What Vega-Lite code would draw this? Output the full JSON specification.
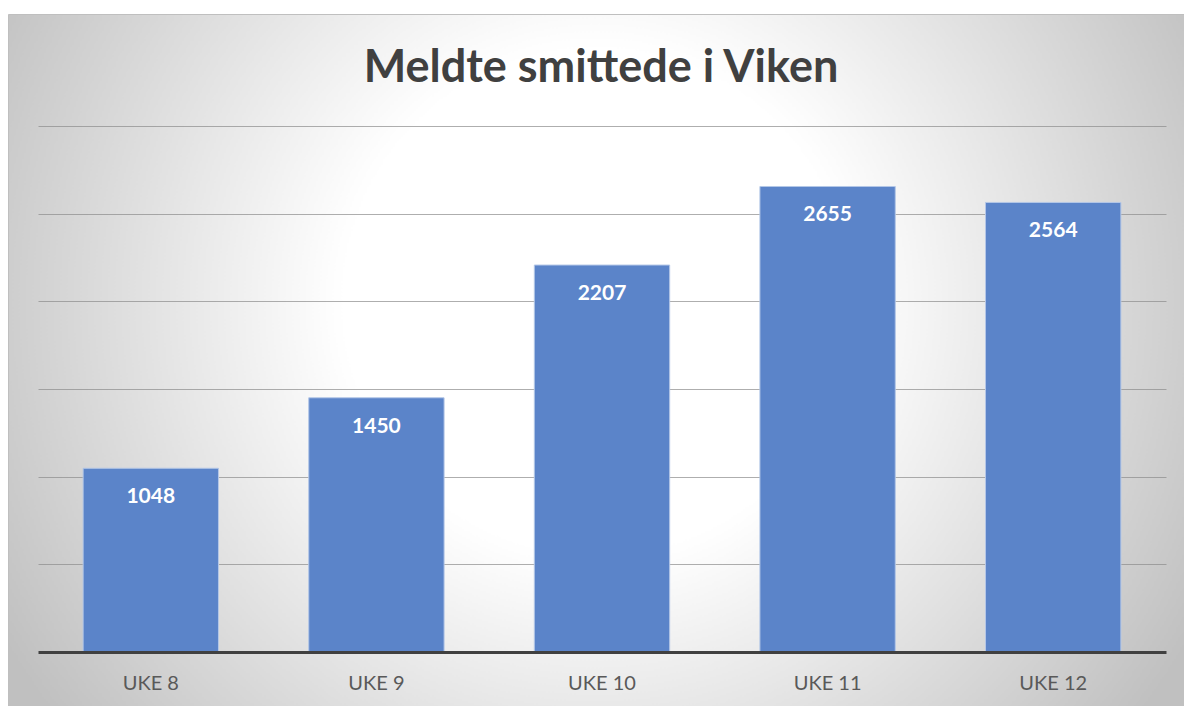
{
  "$schema": "https://vega.github.io/schema/vega-lite/v6.json",
  "width": 1176,
  "height": 692,
  "autosize": {"type": "none"},
  "padding": {"left": 8, "top": 14, "right": 0, "bottom": 0},
  "background": "#ffffff",
  "view": {
    "stroke": "#bfbfbf",
    "strokeWidth": 1,
    "fill": {
      "gradient": "radial",
      "x1": 0.5, "y1": 0.45, "r1": 0,
      "x2": 0.5, "y2": 0.45, "r2": 0.58,
      "stops": [
        {"offset": 0, "color": "#ffffff"},
        {"offset": 0.37, "color": "#ffffff"},
        {"offset": 1, "color": "#c0c0c0"}
      ]
    }
  },
  "title": {
    "text": "Meldte smittede i Viken",
    "anchor": "middle",
    "orient": "top",
    "offset": -68,
    "dy": 45,
    "dx": 5,
    "baseline": "alphabetic",
    "font": "Lato",
    "fontSize": 45,
    "fontWeight": "bold",
    "color": "#404040"
  },
  "data": {
    "values": [
      {"uke": "UKE 8", "smittede": 1048},
      {"uke": "UKE 9", "smittede": 1450},
      {"uke": "UKE 10", "smittede": 2207},
      {"uke": "UKE 11", "smittede": 2655},
      {"uke": "UKE 12", "smittede": 2564}
    ]
  },
  "encoding": {
    "x": {
      "field": "uke",
      "type": "nominal",
      "sort": null,
      "scale": {"range": [30, 1158], "paddingInner": 0.4, "paddingOuter": 0.2},
      "axis": {
        "title": null,
        "orient": "bottom",
        "offset": -54,
        "zindex": 1,
        "ticks": false,
        "labelAngle": 0,
        "labelPadding": 21,
        "labelFont": "Lato",
        "labelFontSize": 20,
        "labelColor": "#595959",
        "domainColor": "#404040",
        "domainWidth": 3,
        "grid": false
      }
    },
    "y": {
      "field": "smittede",
      "type": "quantitative",
      "scale": {"domain": [0, 3000], "range": [638, 112], "nice": false},
      "axis": {
        "title": null,
        "values": [500, 1000, 1500, 2000, 2500, 3000],
        "labels": false,
        "ticks": false,
        "domain": false,
        "grid": true,
        "zindex": 0,
        "gridColor": "#8c8c8c",
        "gridWidth": 1,
        "gridOpacity": 0.7
      }
    }
  },
  "layer": [
    {
      "mark": {"type": "bar", "fill": "#5b84c9", "stroke": "#b4c7e7", "strokeWidth": 1}
    },
    {
      "mark": {
        "type": "text",
        "baseline": "middle",
        "align": "center",
        "dy": 29,
        "font": "Lato",
        "fontSize": 21,
        "fontWeight": "bold",
        "color": "#ffffff"
      },
      "encoding": {"text": {"field": "smittede", "type": "quantitative", "format": "d"}}
    }
  ],
  "config": {}
}
